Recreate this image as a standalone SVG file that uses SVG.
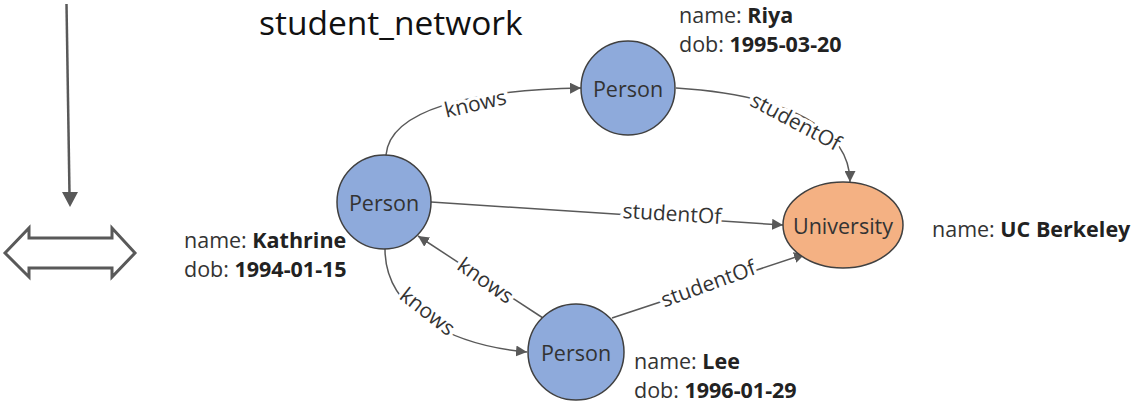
<svg xmlns="http://www.w3.org/2000/svg" width="1136" height="405" viewBox="0 0 1136 405">
<defs>
<marker id="arr" viewBox="0 0 10 10" refX="10" refY="5" markerWidth="11" markerHeight="11" markerUnits="userSpaceOnUse" orient="auto">
<path d="M0,0 L10,5 L0,10 Z" fill="#595959"/>
</marker>
<style>
.edge{fill:none;stroke:#595959;stroke-width:1.5;marker-end:url(#arr)}
.person{fill:#8eaadb;stroke:#404040;stroke-width:1.5}
.uni{fill:#f4b183;stroke:#404040;stroke-width:1.5}
.nt{font-family:"Open Sans",sans-serif;font-size:21.5px;fill:#333;text-anchor:middle;dominant-baseline:central}
.lbl{font-family:"Open Sans",sans-serif;font-size:21px;fill:#333;text-anchor:middle;dominant-baseline:central;stroke:#fff;stroke-width:7;paint-order:stroke;stroke-linejoin:round}
.prop{font-family:"Open Sans",sans-serif;font-size:21.5px;fill:#333}
.prop tspan.b{font-weight:bold;fill:#222}
</style>
</defs>
<g id="side-arrows">
<line x1="66.5" y1="4" x2="69.5" y2="194" stroke="#595959" stroke-width="2.5"/>
<path d="M62,192 L78,192 L70,207 Z" fill="#595959"/>
<path d="M5,253 L29,228 L29,238 L112,238 L112,228 L135,253 L112,277 L112,268 L29,268 L29,277 Z" fill="#fff" stroke="#595959" stroke-width="3"/>
</g>
<text x="259" y="35" font-family="'Open Sans',sans-serif" font-size="33.5" fill="#111">student_network</text>
<g id="connectors">
<path class="edge" d="M386,155 C390,110 470,90 581,88"/>
<path class="edge" d="M676,88 C790,95 850,130 850,182"/>
<path class="edge" d="M431,202 L783,225"/>
<path class="edge" d="M543,318 L418,236"/>
<path class="edge" d="M385,249 C385,310 450,345 527,352"/>
<path class="edge" d="M612,318 L805,254"/>
<text class="lbl" transform="translate(475,103) rotate(-13)">knows</text>
<text class="lbl" transform="translate(796,121) rotate(28)">studentOf</text>
<text class="lbl" transform="translate(672,213) rotate(3.5)">studentOf</text>
<text class="lbl" transform="translate(486,280) rotate(35)">knows</text>
<text class="lbl" transform="translate(428,311) rotate(38)">knows</text>
<text class="lbl" transform="translate(708,283) rotate(-20)">studentOf</text>
</g>
<g id="riya">
<circle class="person" cx="628" cy="88" r="47"/>
<text class="nt" x="628" y="88">Person</text>
<text class="prop" x="679" y="23">name: <tspan class="b">Riya</tspan></text>
<text class="prop" x="679" y="52">dob: <tspan class="b">1995-03-20</tspan></text>
</g>
<g id="kathrine">
<circle class="person" cx="384" cy="202" r="47"/>
<text class="nt" x="384" y="202">Person</text>
<text class="prop" x="184" y="248">name: <tspan class="b">Kathrine</tspan></text>
<text class="prop" x="184" y="277">dob: <tspan class="b">1994-01-15</tspan></text>
</g>
<g id="lee">
<circle class="person" cx="576" cy="352" r="48"/>
<text class="nt" x="576" y="352">Person</text>
<text class="prop" x="634" y="369">name: <tspan class="b">Lee</tspan></text>
<text class="prop" x="634" y="398">dob: <tspan class="b">1996-01-29</tspan></text>
</g>
<g id="university">
<ellipse class="uni" cx="843" cy="225" rx="60" ry="43"/>
<text class="nt" x="843" y="225">University</text>
<text class="prop" x="932" y="237">name: <tspan class="b">UC Berkeley</tspan></text>
</g>
</svg>
